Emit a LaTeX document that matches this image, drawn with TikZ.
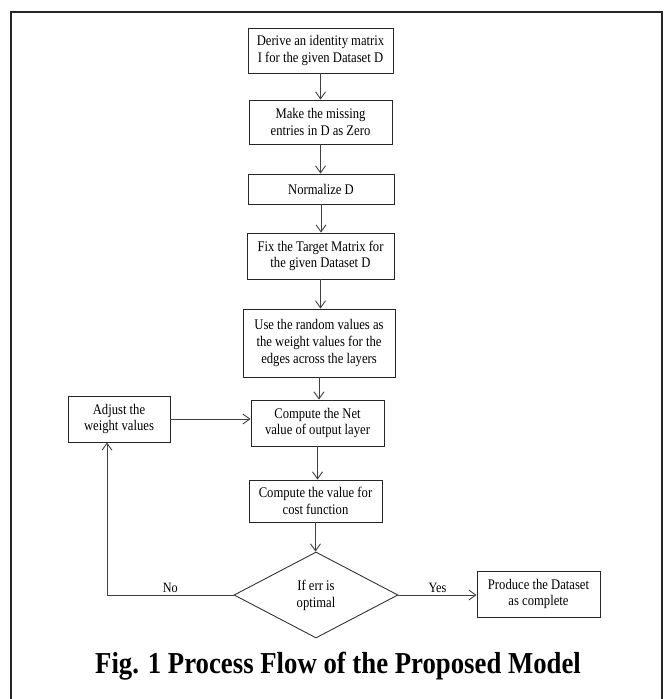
\documentclass[tikz,border=0pt]{standalone}
\usepackage{fontspec}
\setmainfont{Liberation Serif}
\newfontfamily\flowfont[FakeStretch=0.86]{Liberation Serif}
\newfontfamily\figfont[FakeStretch=0.88]{Liberation Serif}
\usetikzlibrary{shapes.geometric,arrows.meta}

\begin{document}
\begin{tikzpicture}[x=1pt,y=-1pt,
  box/.style={draw=black!85,line width=0.9pt,align=center,inner sep=0pt,
    font=\flowfont\fontsize{14.7}{16.8}\selectfont},
  decision/.style={diamond,draw=black!80,line width=0.9pt,align=center,inner sep=0pt,
    minimum width=164pt,minimum height=86pt,font=\flowfont\fontsize{14.7}{16.8}\selectfont},
  flowarrow/.style={draw=black!75,line width=0.9pt,-{Straight Barb[length=7pt,width=10pt]}},
  answer/.style={font=\flowfont\fontsize{14.2}{16.8}\selectfont,inner sep=2pt}]

\useasboundingbox (0,0) rectangle (668,699);
\draw[line width=1.8pt,black!85] (11,702) -- (11,12) -- (662,12) -- (662,702);

\node[box,minimum width=145pt,minimum height=45pt] (identity) at (320.5,50.5) {Derive an identity matrix\\I for the given Dataset D};
\node[box,minimum width=143pt,minimum height=44pt] (missing) at (320.5,122) {Make the missing\\entries in D as Zero};
\node[box,minimum width=146pt,minimum height=30pt] (normalize) at (321,189) {Normalize D};
\node[box,minimum width=147pt,minimum height=46pt] (target) at (320.5,256) {Fix the Target Matrix for\\the given Dataset D};
\node[box,minimum width=152pt,minimum height=68pt] (random) at (319,343) {Use the random values as\\the weight values for the\\edges across the layers};
\node[box,minimum width=133pt,minimum height=46pt] (netvalue) at (317.5,423) {Compute the Net\\value of output layer};
\node[box,minimum width=102pt,minimum height=46pt] (adjust) at (119,419) {Adjust the\\weight values};
\node[box,minimum width=133pt,minimum height=42pt] (cost) at (315.5,501) {Compute the value for\\cost function};
\node[decision] (optimal) at (316,595) {If err is\\optimal};
\node[box,minimum width=123pt,minimum height=46pt] (produce) at (538.5,594) {Produce the Dataset\\as complete};
\coordinate (noturn) at (107,595);

\node[anchor=base,font=\figfont\bfseries\fontsize{30.4}{34}\selectfont] (caption) at (338,673) {Fig. 1 Process Flow of the Proposed Model};

\draw[flowarrow] (identity.south) -- (identity.south |- missing.north);
\draw[flowarrow] (missing.south) -- (missing.south |- normalize.north);
\draw[flowarrow] (normalize.south) -- (normalize.south |- target.north);
\draw[flowarrow] (target.south) -- (target.south |- random.north);
\draw[flowarrow] (random.south) -- (random.south |- netvalue.north);
\draw[flowarrow] (netvalue.south) -- (netvalue.south |- cost.north);
\draw[flowarrow] (cost.south) -- (cost.south |- optimal.north);
\draw[flowarrow] (adjust.east) -- (adjust.east -| netvalue.west);
\draw[flowarrow] (optimal.east) -- node[answer,above] {Yes} (optimal.east -| produce.west);
\draw[flowarrow] (optimal.west) -- node[answer,above] {No} (noturn) -- (noturn |- adjust.south);
\end{tikzpicture}
\end{document}
